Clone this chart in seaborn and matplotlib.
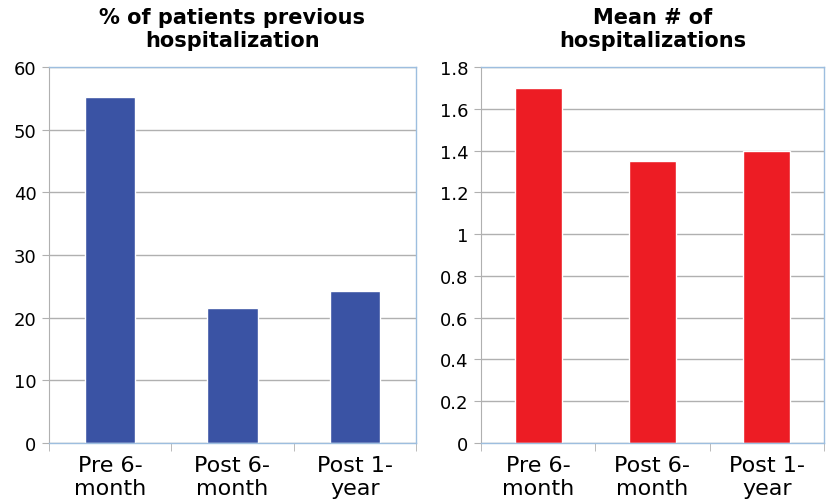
import matplotlib.pyplot as plt
import seaborn as sns
import pandas as pd

# Data
periods = ['Pre 6-\nmonth', 'Post 6-\nmonth', 'Post 1-\nyear']
pct_prev_hosp = [55.2, 21.5, 24.3]
mean_hosp = [1.70, 1.35, 1.40]

df = pd.DataFrame({'period': periods, 'pct': pct_prev_hosp, 'mean': mean_hosp})

sns.set_style('white')
plt.rcParams['font.family'] = ['DejaVu Sans']

fig = plt.figure(figsize=(8.26, 5.02), dpi=100)
ax1 = fig.add_axes([49/826, 58/502, 367/826, 376/502])
ax2 = fig.add_axes([481/826, 58/502, 343/826, 376/502])

border = '#9DBEDF'
grid = '#B0B0B0'


def style_axes(ax, ymax, step, title, fmt):
    ax.set_ylim(0, ymax)
    ticks = [round(i * step, 2) for i in range(int(round(ymax / step)) + 1)]
    ax.set_yticks(ticks)
    ax.set_yticklabels([fmt(t) for t in ticks], fontsize=13, color='black')
    ax.yaxis.grid(True, color=grid, linewidth=1)
    ax.set_axisbelow(True)
    ax.set_xlim(-0.5, 2.5)
    ax.set_xticks([0, 1, 2])
    ax.set_xticklabels(periods, fontsize=16, linespacing=1.15, color='black')
    ax.tick_params(axis='x', length=0, pad=9)
    ax.tick_params(axis='y', length=5, color=grid, left=True, pad=4)
    # minor ticks at category boundaries on the x axis
    ax.set_xticks([-0.5, 0.5, 1.5, 2.5], minor=True)
    ax.tick_params(axis='x', which='minor', length=6, color=grid, bottom=True)
    for side in ['top', 'right', 'bottom']:
        ax.spines[side].set_color(border)
        ax.spines[side].set_linewidth(1)
    ax.spines['left'].set_color(grid)
    ax.set_xlabel('')
    ax.set_ylabel('')
    ax.set_title(title, fontsize=15, fontweight='bold', pad=15,
                 linespacing=1.2, color='black')


sns.barplot(data=df, x='period', y='pct', color='#3A53A4', width=0.41,
            saturation=1, ax=ax1)
style_axes(ax1, 60, 10, '% of patients previous\nhospitalization',
           lambda t: f'{int(t)}')

sns.barplot(data=df, x='period', y='mean', color='#ED1C24', width=0.41,
            saturation=1, ax=ax2)
style_axes(ax2, 1.8, 0.2, 'Mean # of\nhospitalizations',
           lambda t: '0' if t == 0 else ('1' if t == 1 else f'{t:.1f}'))

fig.savefig('out.png', dpi=100)
